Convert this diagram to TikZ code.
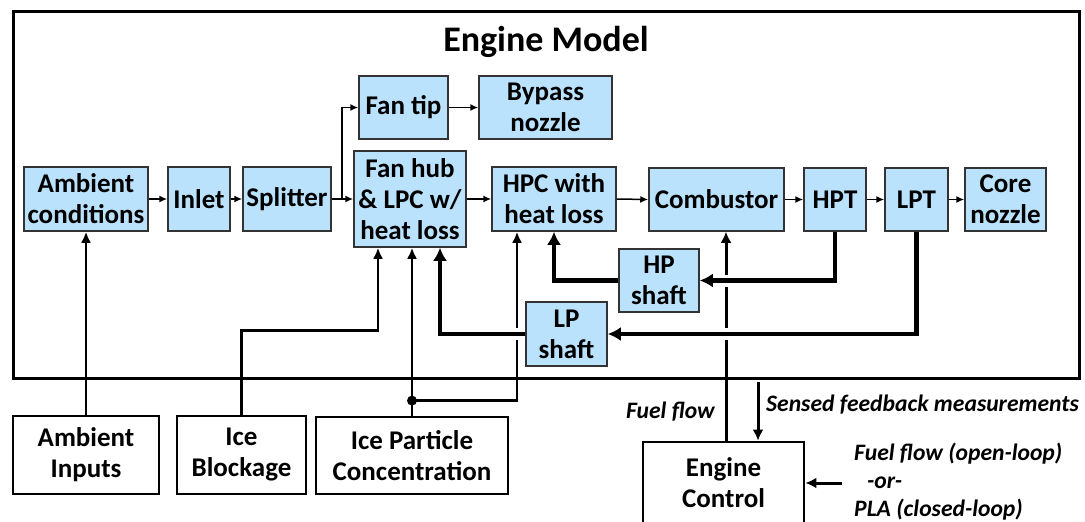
\documentclass[tikz,border=0pt]{standalone}
\usepackage{fontspec}
\setmainfont{Carlito}
\usepackage{tikz}
\usetikzlibrary{calc}
\usetikzlibrary{arrows.meta}
\definecolor{blockblue}{RGB}{186,226,252}

\begin{document}
\begin{tikzpicture}[x=1pt, y=-1pt,
  txt/.style={font=\bfseries\fontsize{27}{31}\selectfont, align=center, inner sep=0pt},
  blk/.style={txt, draw=black!80, fill=blockblue, line width=1.5pt},
  ext/.style={txt, draw=black, line width=2.8pt},
  flow/.style={line width=1.5pt, -{Latex[length=8pt,width=7pt]}},
  ice/.style={line width=2.8pt, -{Latex[length=11pt,width=10pt]}},
  fuel/.style={line width=3pt, -{Latex[length=11pt,width=11pt]}},
  shaft/.style={line width=4.5pt, -{Latex[length=13pt,width=14pt]}},
  hop/.style={preaction={draw=white, -, line width=12pt}},
  lbl/.style={font=\bfseries\itshape\fontsize{23.6}{28}\selectfont, inner sep=0pt}]
  \useasboundingbox (0,0) rectangle (1085,522);

  % engine model frame
  \node[draw, line width=3pt, minimum width=1066pt, minimum height=367pt] (engine) at (546,194.5) {};
  \node[font=\bfseries\fontsize{36}{40}\selectfont] (title) at (546,42) {Engine Model};

  % component blocks
  \node[blk, minimum width=124pt, minimum height=64pt] (ambc) at (86,199) {Ambient\\conditions};
  \node[blk, minimum width=62pt, minimum height=64pt] (inlet) at (199,199) {Inlet};
  \node[blk, minimum width=88pt, minimum height=64pt] (splitter) at (287,199) {Splitter};
  \node[blk, minimum width=89pt, minimum height=63pt] (fantip) at (403.5,107.5) {Fan tip};
  \node[blk, minimum width=133pt, minimum height=63pt] (bypass) at (545.5,107.5) {Bypass\\nozzle};
  \node[blk, minimum width=112pt, minimum height=96pt] (fanhub) at (410,199) {Fan hub\\\& LPC w/\\heat loss};
  \node[blk, minimum width=124pt, minimum height=64pt] (hpc) at (554,199) {HPC with\\heat loss};
  \node[blk, minimum width=135pt, minimum height=63pt] (comb) at (716.5,199.5) {Combustor};
  \node[blk, minimum width=62pt, minimum height=63pt] (hpt) at (835,199.5) {HPT};
  \node[blk, minimum width=63pt, minimum height=63pt] (lpt) at (916.5,199.5) {LPT};
  \node[blk, minimum width=81pt, minimum height=63pt] (core) at (1005.5,199.5) {Core\\nozzle};
  \node[blk, minimum width=80pt, minimum height=63pt] (hpshaft) at (659,280.5) {HP\\shaft};
  \node[blk, minimum width=81pt, minimum height=64pt] (lpshaft) at (566.5,334) {LP\\shaft};

  % external inputs
  \node[ext, minimum width=146pt, minimum height=78pt] (ambin) at (86,455) {Ambient\\Inputs};
  \node[ext, minimum width=129pt, minimum height=78pt] (iceblk) at (241.5,455) {Ice\\Blockage};
  \node[ext, minimum width=192pt, minimum height=77pt] (icepc) at (412,455.5) {Ice Particle\\Concentration};
  \node[ext, minimum width=161pt, minimum height=82pt] (ctrl) at (723.5,483) {Engine\\Control};

  % gas path
  \draw[flow] (ambc.east) -- (inlet.west);
  \draw[flow] (inlet.east) -- (splitter.west);
  \draw[flow] (splitter.east) -- (fanhub.west);
  \draw[flow] (splitter.east) -- ++(10,0) |- (fantip.west);
  \draw[flow] (fantip.east) -- (bypass.west);
  \draw[flow] (fanhub.east |- hpc.west) -- (hpc.west);
  \draw[flow] (hpc.east) -- (comb.west);
  \draw[flow] (comb.east) -- (hpt.west);
  \draw[flow] (hpt.east) -- (lpt.west);
  \draw[flow] (lpt.east) -- (core.west);

  % inputs
  \draw[ice] (ambin.north) -- (ambin.north |- ambc.south);
  \draw[ice] (iceblk.north) -- ++(0,-84) -| ([xshift=-32pt]fanhub.south);
  \draw[ice] (icepc.north) -- (icepc.north |- fanhub.south);
  \coordinate (tap) at ($(icepc.north)+(0,-15)$);
  \fill (tap) circle (5pt);
  \draw[ice] (tap) -| ([xshift=-37pt]hpc.south);

  % control loop
  \coordinate (fuelin) at ([xshift=2.5pt]ctrl.north);
  \draw[fuel] (fuelin) -- (fuelin |- comb.south);
  \coordinate (sense) at (758,382);
  \draw[fuel] (sense) -- (sense |- ctrl.north);
  \coordinate (cmd) at (842,483);
  \draw[fuel] (cmd) -- (cmd -| ctrl.east);

  % shafts
  \draw[shaft, hop] (hpt.south) |- (hpshaft.east);
  \draw[shaft, hop] (lpt.south) |- (lpshaft.east);
  \draw[shaft] (hpshaft.west) -| (hpc.south);
  \draw[shaft, hop] (lpshaft.west) -| ([xshift=30pt]fanhub.south);

  % labels
  \node[lbl, anchor=east] (lblfuel) at (715,412) {Fuel flow};
  \node[lbl, anchor=west] (lblsense) at (766,405) {Sensed feedback measurements};
  \node[lbl, anchor=west, align=left] (lblcmd) at (854,482) {Fuel flow (open-loop)\\\hspace*{13pt}-or-\\PLA (closed-loop)};
\end{tikzpicture}
\end{document}
